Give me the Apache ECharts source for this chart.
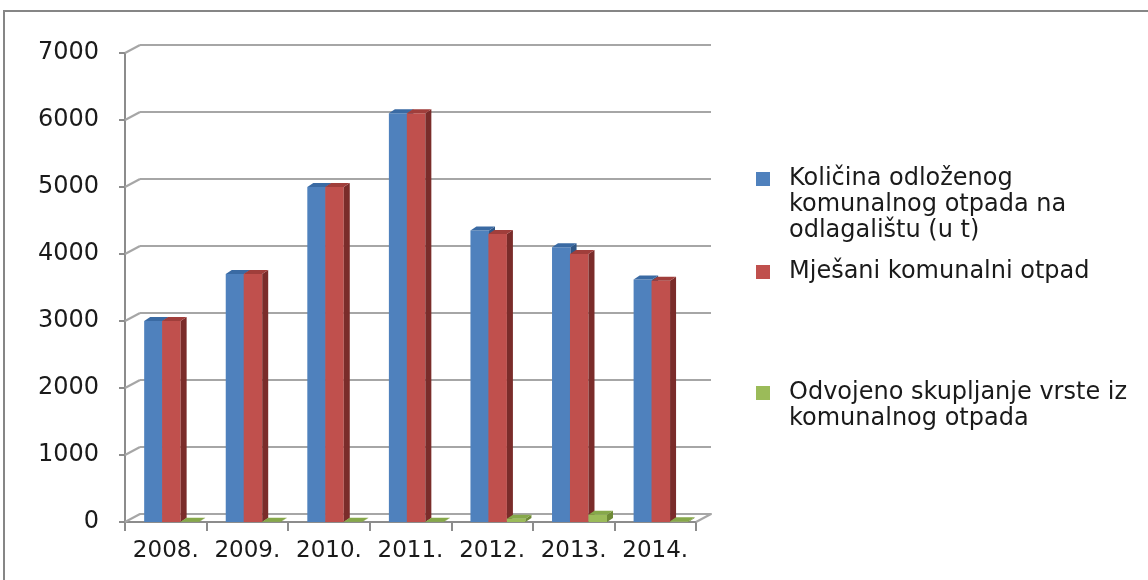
<!DOCTYPE html>
<html>
<head>
<meta charset="utf-8">
<script src="https://cdn.jsdelivr.net/npm/echarts@6/dist/echarts.min.js"></script>
<style>
  html, body { margin: 0; padding: 0; background: #fff; }
  #chart { width: 1148px; height: 580px; }
</style>
</head>
<body>
<div id="chart"></div>
<script>
// podaci s grafa
var godine = ["2008.", "2009.", "2010.", "2011.", "2012.", "2013.", "2014."];
var odlozeno = [3000, 3700, 5000, 6100, 4350, 4100, 3620];
var mjesani = [3000, 3700, 5000, 6100, 4300, 4000, 3600];
var odvojeno = [5, 5, 5, 5, 50, 110, 10];
var yTicks = [0, 1000, 2000, 3000, 4000, 5000, 6000, 7000];

var names = [
	"Količina odloženog komunalnog otpada na odlagalištu (u t)",
	"Mješani komunalni otpad",
	"Odvojeno skupljanje vrste iz komunalnog otpada"
];
var wrapped = {};
wrapped[names[0]] = "Količina odloženog\nkomunalnog otpada na\nodlagalištu (u t)";
wrapped[names[1]] = "Mješani komunalni otpad";
wrapped[names[2]] = "Odvojeno skupljanje vrste iz\nkomunalnog otpada";

var FONT = "DejaVu Sans";
var LINE_H = 26;
var DX = 6, DY = -4;   // dubina 3d stupca
var WALL_DX = 15, WALL_DY = -8;

function bar3d(offset, front, side, top) {
	return function(params, api) {
		var c = api.coord([api.value(0), api.value(1)]);
		var base = api.coord([api.value(0), 0]);
		var band = api.size([1, 0])[0];
		var w = band * 0.227;
		var x0 = c[0] + offset * band;
		var y0 = c[1], y1 = base[1];
		return {
			type: "group",
			children: [
				{ type: "rect", shape: { x: x0, y: y0, width: w, height: y1 - y0 }, style: { fill: front } },
				{ type: "polygon", shape: { points: [[x0 + w, y0], [x0 + w + DX, y0 + DY], [x0 + w + DX, y1 + DY], [x0 + w, y1]] }, style: { fill: side } },
				{ type: "polygon", shape: { points: [[x0, y0], [x0 + DX, y0 + DY], [x0 + w + DX, y0 + DY], [x0 + w, y0]] }, style: { fill: top } }
			]
		};
	};
}

// kvadratic uz prvi redak teksta: visina ikone tako da je kvadrat gore
function legendOf(name, top, lines) {
	var h = lines > 1 ? LINE_H * lines - LINE_H + 14 : 14;
	var icon = lines > 1 ? "path://M0,0H14V14H0Z M0," + h + "L0.01," + h + "L0," + (h - 0.01) + "Z" : "rect";
	return {
		data: [name],
		orient: "vertical",
		left: 756,
		top: top,
		padding: 0,
		icon: icon,
		itemWidth: 14,
		itemHeight: h,
		selectedMode: false,
		formatter: function(n) { return wrapped[n]; },
		textStyle: {
			fontFamily: FONT,
			fontSize: 24,
			color: "#1a1a1a",
			lineHeight: LINE_H,
			padding: [0, 0, 0, 14]
		}
	};
}

var chart = echarts.init(document.getElementById("chart"));

var option = {
	animation: false,
	backgroundColor: "#fff",
	graphic: [
		{ type: "rect", shape: { x: 4, y: 11, width: 1160, height: 600 }, style: { fill: "none", stroke: "#868686", lineWidth: 2 }, silent: true }
	],
	legend: [
		legendOf(names[0], 166, 3),
		legendOf(names[1], 259, 1),
		legendOf(names[2], 380, 2)
	],
	grid: [
		{ left: 125, right: 452, top: 53, bottom: 58 },
		{ left: 140, right: 437, top: 45, bottom: 66 }
	],
	xAxis: [
		{
			type: "category", gridIndex: 0, data: godine,
			axisLine: { lineStyle: { color: "#8c8c8c", width: 2 } },
			axisTick: { show: true, length: 9, lineStyle: { color: "#8c8c8c", width: 2 } },
			axisLabel: { interval: 0, fontFamily: FONT, fontSize: 23, color: "#1a1a1a", margin: 18 }
		},
		{
			type: "category", gridIndex: 1, data: godine,
			axisLine: { lineStyle: { color: "#a6a6a6", width: 2 } },
			axisTick: { show: false }, axisLabel: { show: false }
		}
	],
	yAxis: [
		{
			type: "value", gridIndex: 0, min: 0, max: 7000, interval: 1000,
			axisLine: { show: true, lineStyle: { color: "#8c8c8c", width: 2 } },
			axisTick: { show: true, length: 6, lineStyle: { color: "#8c8c8c", width: 2 } },
			splitLine: { show: false },
			axisLabel: {
				fontFamily: FONT, fontSize: 24, color: "#1a1a1a", margin: 26,
				formatter: function(v) { return String(v); }
			}
		},
		{
			type: "value", gridIndex: 1, min: 0, max: 7000, interval: 1000,
			axisLine: { show: false }, axisTick: { show: false }, axisLabel: { show: false },
			splitLine: { lineStyle: { color: "#a6a6a6", width: 2 } }
		}
	],
	series: [
		{
			// spojnice lijevog zida
			type: "custom", xAxisIndex: 0, yAxisIndex: 0, silent: true,
			data: yTicks.map(function(v) { return [0, v]; }),
			renderItem: function(params, api) {
				var p = api.coord([0, api.value(1)]);
				var x0 = p[0] - api.size([1, 0])[0] / 2;
				return { type: "line", shape: { x1: x0, y1: p[1], x2: x0 + WALL_DX, y2: p[1] + WALL_DY }, style: { stroke: "#a6a6a6", lineWidth: 2 } };
			}
		},
		{
			// desni rub poda
			type: "custom", xAxisIndex: 0, yAxisIndex: 0, silent: true,
			data: [[godine.length - 1, 0]],
			renderItem: function(params, api) {
				var p = api.coord([api.value(0), 0]);
				var x0 = p[0] + api.size([1, 0])[0] / 2;
				return { type: "line", shape: { x1: x0, y1: p[1], x2: x0 + WALL_DX, y2: p[1] + WALL_DY }, style: { stroke: "#a6a6a6", lineWidth: 2 } };
			}
		},
		{
			name: names[0], type: "custom", xAxisIndex: 0, yAxisIndex: 0,
			itemStyle: { color: "#4F81BD" },
			data: odlozeno.map(function(v, i) { return [i, v]; }),
			renderItem: bar3d(-0.265, "#4F81BD", "#2E5686", "#3A6AA3")
		},
		{
			name: names[1], type: "custom", xAxisIndex: 0, yAxisIndex: 0,
			itemStyle: { color: "#C0504D" },
			data: mjesani.map(function(v, i) { return [i, v]; }),
			renderItem: bar3d(-0.045, "#C0504D", "#7A2C2A", "#A03E3B")
		},
		{
			name: names[2], type: "custom", xAxisIndex: 0, yAxisIndex: 0,
			itemStyle: { color: "#9BBB59" },
			data: odvojeno.map(function(v, i) { return [i, v]; }),
			renderItem: bar3d(0.182, "#9BBB59", "#6E8A36", "#86A84A")
		}
	]
};

chart.setOption(option);
</script>
</body>
</html>
